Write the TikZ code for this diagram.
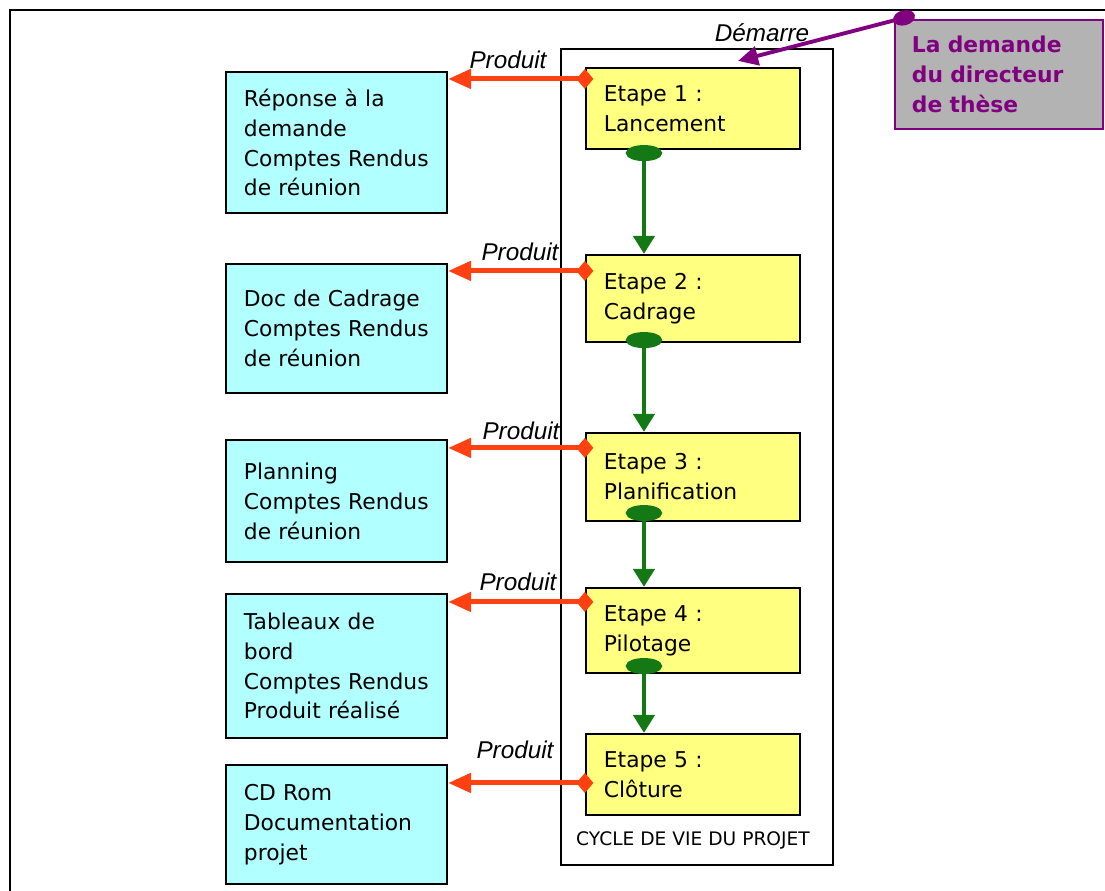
\documentclass[tikz,border=0pt]{standalone}
\usepackage{fontspec}
\setmainfont{DejaVu Sans}
\newfontfamily\helvfont{Liberation Sans}
\usepackage{tikz}
\usetikzlibrary{arrows.meta}

\definecolor{jaune}{RGB}{255,255,128}
\definecolor{cyanclair}{RGB}{178,255,255}
\definecolor{grisclair}{RGB}{179,179,179}
\definecolor{violetfonce}{RGB}{128,0,128}
\definecolor{rougeorange}{RGB}{255,64,16}
\definecolor{vertfonce}{RGB}{20,120,20}

\begin{document}
\begin{tikzpicture}[x=0.01cm, y=-0.01cm,
		etape_style/.style={draw=black, line width=0.6pt, fill=jaune, inner xsep=0.18cm, inner ysep=0pt, text width=1.78cm, align=left, font=\fontsize{6.2}{8.5}\selectfont},
		livrable_style/.style={draw=black, line width=0.6pt, fill=cyanclair, inner xsep=0.18cm, inner ysep=0pt, text width=1.85cm, align=left, font=\fontsize{6.2}{8.5}\selectfont},
		demande_style/.style={draw=violetfonce, line width=0.7pt, fill=grisclair, text=violetfonce, inner xsep=0.17cm, inner ysep=0pt, text width=1.74cm, align=left, font=\bfseries\fontsize{6.2}{8.5}\selectfont},
		cadre_style/.style={draw=black, line width=0.6pt, minimum width=2.72cm, minimum height=8.16cm, inner sep=0pt},
		label_style/.style={inner sep=0pt, font=\helvfont\itshape\fontsize{6.9}{8}\selectfont},
		produit_style/.style={draw=rougeorange, line width=1.4pt, {Diamond[length=0.17cm,width=0.2cm]}-{Triangle[length=0.23cm,width=0.19cm]}},
		suite_style/.style={draw=vertfonce, line width=1.4pt, {Ellipse[length=0.16cm,width=0.36cm]}-{Triangle[length=0.18cm,width=0.21cm]}},
		demarre_style/.style={draw=violetfonce, line width=1.1pt, {Ellipse[length=0.22cm,width=0.15cm]}-{Triangle[length=0.2cm,width=0.19cm]}}]
		
		\useasboundingbox (0,0) rectangle (1105,891);
		\draw[line width=0.5pt] (10,891) -- (10,10) -- (1105,10);
		
		\node[cadre_style] (cadre) at (697,457) {};
		\node[inner sep=0pt, font=\fontsize{5.3}{6}\selectfont] (cycle) at (693,840) {CYCLE DE VIE DU PROJET};
		
		\node[etape_style, minimum height=0.81cm] (e1) at (693,108.5) {Etape 1 :\\Lancement};
		\node[etape_style, minimum height=0.87cm] (e2) at (693,298.5) {Etape 2 :\\Cadrage};
		\node[etape_style, minimum height=0.88cm] (e3) at (693,477) {Etape 3 :\\Planification};
		\node[etape_style, minimum height=0.85cm] (e4) at (693,630.5) {Etape 4 :\\Pilotage};
		\node[etape_style, minimum height=0.81cm] (e5) at (693,774.5) {Etape 5 :\\Clôture};
		
		\node[livrable_style, minimum height=1.41cm] (r1) at (336.5,142.5) {Réponse à la\\demande\\Comptes Rendus\\de réunion};
		\node[livrable_style, minimum height=1.29cm] (r2) at (336.5,328.5) {Doc de Cadrage\\Comptes Rendus\\de réunion};
		\node[livrable_style, minimum height=1.22cm] (r3) at (336.5,501) {Planning\\Comptes Rendus\\de réunion};
		\node[livrable_style, minimum height=1.44cm] (r4) at (336.5,666) {Tableaux de\\bord\\Comptes Rendus\\Produit réalisé};
		\node[livrable_style, minimum height=1.19cm] (r5) at (336.5,824.5) {CD Rom\\Documentation\\projet};
		
		\node[demande_style, minimum height=1.09cm] (dem) at (999,74.5) {La demande\\du directeur\\de thèse};
		
		\node[label_style] (l0) at (762,33) {Démarre};
		\node[label_style] (l1) at (508,60) {Produit};
		\node[label_style] (l2) at (520,252) {Produit};
		\node[label_style] (l3) at (521,431) {Produit};
		\node[label_style] (l4) at (518,582) {Produit};
		\node[label_style] (l5) at (515,750) {Produit};
		
		\draw[produit_style] ([xshift=0.085cm,yshift=-0.12cm]e1.north west) coordinate (p1) -- (p1 -| r1.east);
		\draw[produit_style] ([xshift=0.085cm,yshift=-0.17cm]e2.north west) coordinate (p2) -- (p2 -| r2.east);
		\draw[produit_style] ([xshift=0.085cm,yshift=-0.16cm]e3.north west) coordinate (p3) -- (p3 -| r3.east);
		\draw[produit_style] ([xshift=0.085cm,yshift=-0.15cm]e4.north west) coordinate (p4) -- (p4 -| r4.east);
		\draw[produit_style] ([xshift=0.085cm,yshift=-0.50cm]e5.north west) coordinate (p5) -- (p5 -| r5.east);
		
		\draw[suite_style] ([xshift=-0.49cm,yshift=0.05cm]e1.south) coordinate (g1) -- (g1 |- e2.north);
		\draw[suite_style] ([xshift=-0.49cm,yshift=0.11cm]e2.south) coordinate (g2) -- (g2 |- e3.north);
		\draw[suite_style] ([xshift=-0.49cm,yshift=0.17cm]e3.south) coordinate (g3) -- (g3 |- e4.north);
		\draw[suite_style] ([xshift=-0.49cm,yshift=0.16cm]e4.south) coordinate (g4) -- (g4 |- e5.north);
		
		\draw[demarre_style] ([xshift=0.21cm,yshift=0.037cm]dem.north west) -- ([xshift=0.45cm,yshift=0.06cm]e1.north);
		
\end{tikzpicture}
\end{document}
